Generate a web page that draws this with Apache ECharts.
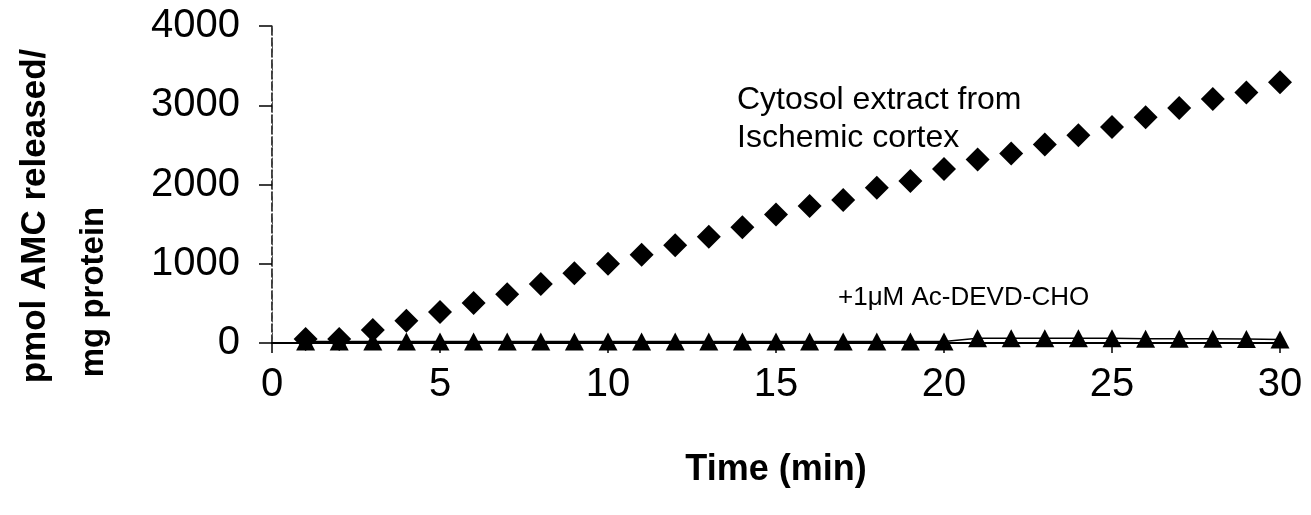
<!DOCTYPE html>
<html>
<head>
<meta charset="utf-8">
<script src="https://cdn.jsdelivr.net/npm/echarts@6/dist/echarts.min.js"></script>
<style>
  html, body { margin: 0; padding: 0; background: #fff; }
  #chart { width: 1311px; height: 515px; }
</style>
</head>
<body>
<div id="chart"></div>
<script>
// time points (min)
var times = [1, 2, 3, 4, 5, 6, 7, 8, 9, 10, 11, 12, 13, 14, 15, 16, 17, 18, 19, 20,
  21, 22, 23, 24, 25, 26, 27, 28, 29, 30];
// cytosol extract from ischemic cortex
var cytosol = [50, 50, 165, 280, 390, 505, 615, 745, 880, 1000, 1115, 1235, 1340, 1460, 1620,
  1730, 1805, 1960, 2045, 2195, 2315, 2390, 2505, 2620, 2725, 2850, 2965, 3080, 3160, 3290];
// + 1uM Ac-DEVD-CHO
var inhibited = [20, 20, 20, 20, 20, 20, 20, 20, 20, 20, 20, 20, 20, 20, 20,
  20, 20, 20, 20, 20, 60, 60, 60, 60, 60, 55, 55, 55, 50, 45];
var xTicks = [0, 5, 10, 15, 20, 25, 30];
var yTicks = [0, 1000, 2000, 3000, 4000];

var chart = echarts.init(document.getElementById("chart"));
var font = "Liberation Sans, Arial, sans-serif";

var option = {
  animation: false,
  backgroundColor: "#fff",
  grid: { left: 272, right: 31, top: 26, bottom: 172 },
  xAxis: [{
    type: "value",
    min: xTicks[0], max: xTicks[xTicks.length - 1], interval: 5,
    axisLine: { lineStyle: { color: "#000", width: 2 } },
    axisTick: { inside: false, length: 10, lineStyle: { color: "#000", width: 1.5 } },
    axisLabel: { color: "#000", fontSize: 40, fontFamily: font, margin: 22 },
    splitLine: { show: false }
  }, {
    // top border of plot
    type: "value", position: "top",
    min: 0, max: 30,
    axisLine: { lineStyle: { color: "#000", width: 2 } },
    axisTick: { show: false }, axisLabel: { show: false }, splitLine: { show: false }
  }],
  yAxis: [{
    type: "value",
    min: yTicks[0], max: yTicks[yTicks.length - 1], interval: 1000,
    axisLine: { show: true, lineStyle: { color: "#000", width: 1.5, type: [8, 3] } },
    axisTick: { show: true, length: 13, lineStyle: { color: "#000", width: 1.5 } },
    axisLabel: { color: "#000", fontSize: 40, fontFamily: font, margin: 32,
      formatter: function (v) { return String(v); } },
    splitLine: { show: false }
  }, {
    // right border of plot
    type: "value", position: "right",
    min: 0, max: 4000,
    axisLine: { show: true, lineStyle: { color: "#555", width: 1, type: [3, 4] } },
    axisTick: { show: false }, axisLabel: { show: false }, splitLine: { show: false }
  }],
  graphic: [
    { type: "text", x: 35, y: 216, rotation: Math.PI / 2,
      style: { text: "pmol AMC released/", font: "bold 35px " + font, fill: "#000",
        textAlign: "center", textVerticalAlign: "middle" } },
    { type: "text", x: 94, y: 292, rotation: Math.PI / 2,
      style: { text: "mg protein", font: "bold 33px " + font, fill: "#000",
        textAlign: "center", textVerticalAlign: "middle" } },
    { type: "text", x: 776, y: 470,
      style: { text: "Time (min)", font: "bold 36px " + font, fill: "#000",
        textAlign: "center", textVerticalAlign: "middle" } },
    { type: "text", x: 737, y: 119,
      style: { text: "Cytosol extract from\nIschemic cortex", font: "32px " + font, fill: "#000",
        lineHeight: 38, textAlign: "left", textVerticalAlign: "middle" } },
    { type: "text", x: 838, y: 298,
      style: { text: "+1\u03bcM Ac-DEVD-CHO", font: "26px " + font, fill: "#000",
        textAlign: "left", textVerticalAlign: "middle" } }
  ],
  series: [{
    name: "Cytosol extract from Ischemic cortex",
    type: "scatter",
    symbol: "diamond",
    symbolSize: [24, 24],
    itemStyle: { color: "#000", opacity: 1 },
    data: times.map(function (t, i) { return [t, cytosol[i]]; }),
    z: 3
  }, {
    name: "+1uM Ac-DEVD-CHO",
    type: "line",
    symbol: "triangle",
    symbolSize: [19, 18],
    showSymbol: true,
    lineStyle: { color: "#000", width: 1.5 },
    itemStyle: { color: "#000", opacity: 1 },
    data: times.map(function (t, i) { return [t, inhibited[i]]; }),
    z: 4
  }]
};

chart.setOption(option);
</script>
</body>
</html>
